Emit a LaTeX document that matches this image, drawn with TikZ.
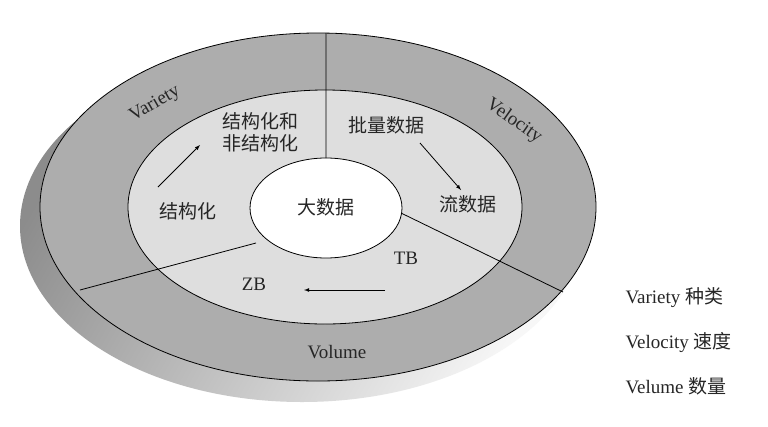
\documentclass[tikz,border=0pt]{standalone}
\usepackage{fontspec}
\usetikzlibrary{shapes.geometric}
\setmainfont{Liberation Serif}
\newfontfamily\cjk{Noto Sans CJK SC}
\begin{document}
\begin{tikzpicture}[x=1pt,y=-1pt,
  lab/.style={font=\cjk\fontsize{19}{22}\selectfont, text=black!85},
  en/.style={font=\fontsize{19}{22}\selectfont, text=black!85},
  arr/.style={-latex, line width=0.8pt}]
\useasboundingbox (0,0) rectangle (768,426);
\fill[white] (0,0) rectangle (768,426);
\shade[left color=black!45, right color=black!3, shading angle=60] (302,226) ellipse [x radius=282, y radius=176];
\fill[black!32] (318,207) ellipse [x radius=278, y radius=174];
\draw[line width=0.8pt] (318,207) ellipse [x radius=278, y radius=174];
\fill[black!13] (325,207) ellipse [x radius=197, y radius=117];
\draw[line width=0.8pt] (325,207) ellipse [x radius=197, y radius=117];
\node[draw, line width=0.8pt, fill=white, ellipse, minimum width=152pt, minimum height=100pt, inner sep=0pt] (c) at (326,208) {};
\node[lab] (cl) at (326,207) {大数据};
\coordinate (v0) at (326,158); \coordinate (v1) at (326,33);
\coordinate (l0) at (256,243); \coordinate (l1) at (80,290);
\coordinate (r0) at (401,213); \coordinate (r1) at (563,292);
\draw[line width=0.8pt] (v0) -- (v1) (l0) -- (l1) (r0) -- (r1);
\node[en, rotate=30] (var) at (155,104) {Variety};
\node[en, rotate=-35] (vel) at (514,121) {Velocity};
\node[en] (vol) at (337,352) {Volume};
\node[lab, align=left] (s2) at (260,132) {结构化和\\非结构化};
\node[lab] (s1) at (188,211) {结构化};
\node[lab] (b1) at (386,125) {批量数据};
\node[lab] (b2) at (468,204) {流数据};
\node[en] (tb) at (406,258) {TB};
\node[en] (zb) at (254,284) {ZB};
\coordinate (a1) at (158,187); \coordinate (a2) at (200,145);
\coordinate (a3) at (420,143); \coordinate (a4) at (461,190);
\coordinate (a5) at (385,290); \coordinate (a6) at (304,290);
\draw[arr] (a1) -- (a2);
\draw[arr] (a3) -- (a4);
\draw[arr] (a5) -- (a6);
\node[en, anchor=west] (g1) at (622,298) {Variety {\cjk 种类}};
\node[en, anchor=west] (g2) at (622,343) {Velocity {\cjk 速度}};
\node[en, anchor=west] (g3) at (622,386) {Velume {\cjk 数量}};
\end{tikzpicture}
\end{document}
